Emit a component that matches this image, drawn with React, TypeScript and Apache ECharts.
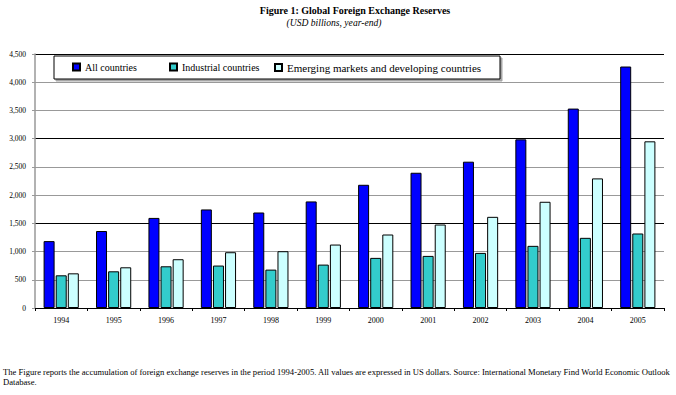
import React, { useEffect, useRef } from "react";
import * as echarts from "echarts";

const years = ["1994", "1995", "1996", "1997", "1998", "1999", "2000", "2001", "2002", "2003", "2004", "2005"];
const allCountries = [1185, 1364, 1596, 1746, 1692, 1888, 2183, 2396, 2592, 2988, 3533, 4278];
const industrial = [579, 650, 739, 752, 680, 769, 888, 923, 976, 1101, 1243, 1320];
const emerging = [614, 721, 864, 988, 1006, 1124, 1302, 1479, 1615, 1882, 2296, 2953];
const seriesNames = ["All countries", "Industrial countries", "Emerging markets and developing countries"];
const seriesColors = ["#0000ff", "#33cccc", "#ccffff"];
const titleText = "Figure 1: Global Foreign Exchange Reserves";
const subtitleText = "(USD billions, year-end)";
const footLine1 =
  "The Figure reports the accumulation of foreign exchange reserves in the period 1994-2005. All values are expressed in US dollars. Source: International Monetary Find World Economic Outlook";
const footLine2 = "Database.";

const SERIF = "'Liberation Serif', 'Times New Roman', serif";

export default function App() {
  const ref = useRef<HTMLDivElement>(null);
  useEffect(() => {
    if (!ref.current) return;
    const chart = echarts.init(ref.current, null, { renderer: "svg" });
    const values = [allCountries, industrial, emerging];
    const legendLefts = [72, 169, 274];
    const legendFonts = [10, 10, 11];
    chart.setOption({
      animation: false,
      backgroundColor: "#ffffff",
      textStyle: { fontFamily: SERIF },
      grid: { left: 35, right: 12, top: 54, bottom: 87, containLabel: false },
      legend: seriesNames.map((n, i) => ({
        data: [n],
        left: legendLefts[i],
        top: 62,
        padding: 0,
        itemWidth: 7,
        itemHeight: 7,
        itemGap: 5,
        icon: "rect",
        z: 10,
        textStyle: { fontFamily: SERIF, fontSize: legendFonts[i], color: "#000" },
      })),
      xAxis: {
        type: "category",
        data: years,
        boundaryGap: true,
        axisLine: { lineStyle: { color: "#000", width: 1 } },
        axisTick: { show: true, alignWithLabel: false, length: 3, lineStyle: { color: "#000" } },
        axisLabel: { fontFamily: SERIF, fontSize: 8, color: "#000", margin: 8 },
      },
      yAxis: {
        type: "value",
        min: 0,
        max: 4500,
        interval: 500,
        axisLine: { show: true, lineStyle: { color: "#999", width: 1.5 } },
        axisTick: { show: true, length: 3, lineStyle: { color: "#999" } },
        axisLabel: {
          fontFamily: SERIF,
          fontSize: 7.5,
          color: "#000",
          margin: 9,
          formatter: (v: number) => v.toLocaleString("en-US"),
        },
        splitLine: { show: true, lineStyle: { color: ["#000", "#999", "#999"], width: 1 } },
      },
      series: seriesNames.map((n, i) => ({
        name: n,
        type: "bar",
        data: values[i],
        barWidth: 11,
        barGap: "10%",
        itemStyle: { color: seriesColors[i], borderColor: "#000", borderWidth: 1 },
      })),
      graphic: [
        {
          type: "text",
          x: 355,
          y: 10,
          style: {
            text: titleText,
            fontFamily: SERIF,
            fontSize: 10,
            fontWeight: "bold",
            fill: "#000",
            textAlign: "center",
            textVerticalAlign: "middle",
          },
        },
        {
          type: "text",
          x: 334,
          y: 22,
          style: {
            text: subtitleText,
            fontFamily: SERIF,
            fontSize: 9.6,
            fontStyle: "italic",
            fill: "#000",
            textAlign: "center",
            textVerticalAlign: "middle",
          },
        },
        {
          type: "rect",
          z: 5,
          shape: { x: 54, y: 56, width: 446, height: 23 },
          style: {
            fill: "#fff",
            stroke: "#000",
            lineWidth: 1,
            shadowColor: "rgba(0,0,0,0.35)",
            shadowOffsetX: 2,
            shadowOffsetY: 2,
            shadowBlur: 0,
          },
        },
        {
          type: "text",
          x: 3,
          y: 372,
          style: {
            text: footLine1,
            fontFamily: SERIF,
            fontSize: 8.6,
            fill: "#000",
            textVerticalAlign: "middle",
          },
        },
        {
          type: "text",
          x: 3,
          y: 382,
          style: {
            text: footLine2,
            fontFamily: SERIF,
            fontSize: 8.6,
            fill: "#000",
            textVerticalAlign: "middle",
          },
        },
      ],
    });
    return () => chart.dispose();
  }, []);
  return <div ref={ref} style={{ width: 676, height: 395, position: "absolute", left: 0, top: 0 }} />;
}
